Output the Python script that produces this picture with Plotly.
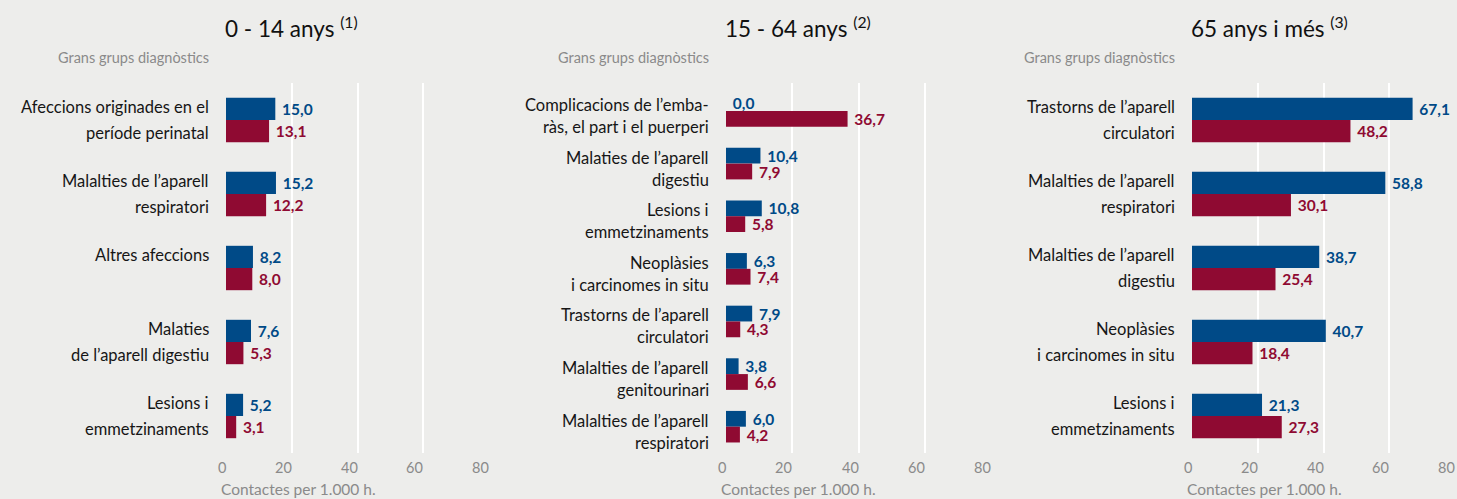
import plotly.graph_objects as go

# ---- data ----
titles = ["0 - 14 anys", "15 - 64 anys", "65 anys i més"]
notes = ["(1)", "(2)", "(3)"]

cats_1 = ["Afeccions originades en el\nperíode perinatal",
          "Malalties de l’aparell\nrespiratori",
          "Altres afeccions\n",
          "Malaties\nde l’aparell digestiu",
          "Lesions i\nemmetzinaments"]
blue_1 = [15.0, 15.2, 8.2, 7.6, 5.2]
red_1 = [13.1, 12.2, 8.0, 5.3, 3.1]

cats_2 = ["Complicacions de l’emba-\nràs, el part i el puerperi",
          "Malaties de l’aparell\ndigestiu",
          "Lesions i\nemmetzinaments",
          "Neoplàsies\ni carcinomes in situ",
          "Trastorns de l’aparell\ncirculatori",
          "Malalties de l’aparell\ngenitourinari",
          "Malalties de l’aparell\nrespiratori"]
blue_2 = [0.0, 10.4, 10.8, 6.3, 7.9, 3.8, 6.0]
red_2 = [36.7, 7.9, 5.8, 7.4, 4.3, 6.6, 4.2]

cats_3 = ["Trastorns de l’aparell\ncirculatori",
          "Malalties de l’aparell\nrespiratori",
          "Malalties de l’aparell\ndigestiu",
          "Neoplàsies\ni carcinomes in situ",
          "Lesions i\nemmetzinaments"]
blue_3 = [67.1, 58.8, 38.7, 40.7, 21.3]
red_3 = [48.2, 30.1, 25.4, 18.4, 27.3]

x_ticks = [0, 20, 40, 60, 80]
x_tick_labels = ["0", "20", "40", "60", "80"]
y_title = "Grans grups diagnòstics"
x_title = "Contactes per 1.000 h."

# ---- style ----
W, H = 1457, 499
BG = "#ededeb"
BLUE = "#004a87"
RED = "#8f0a32"
GREY = "#8a8a8a"
FONT = "Lato"
panels = [
    dict(cats=cats_1, blue=blue_1, red=red_1, x0=226, x1=489, shifts=(13, -13)),
    dict(cats=cats_2, blue=blue_2, red=red_2, x0=726, x1=991, shifts=(6, -16)),
    dict(cats=cats_3, blue=blue_3, red=red_3, x0=1192, x1=1455, shifts=(13, -13)),
]
ytop, ybot = 83, 453

fig = go.Figure()
annotations = []
for i, p in enumerate(panels):
    n = "" if i == 0 else str(i + 1)
    xa, ya = "x" + n, "y" + n
    keys = [c.replace("\n", " ") for c in p["cats"]]
    for vals, col, name in [(p["blue"], BLUE, "Homes"), (p["red"], RED, "Dones")]:
        fig.add_trace(go.Bar(
            y=keys, x=vals, orientation="h", name=name, marker=dict(color=col, line=dict(width=0)),
            text=["\u00a0" + f"{v:.1f}".replace(".", ",") for v in vals],
            textposition="outside", constraintext="none", cliponaxis=False,
            textfont=dict(family=FONT, size=15.5, color=col, weight="bold"),
            xaxis=xa, yaxis=ya, showlegend=False, hoverinfo="skip"))
    dom = [p["x0"] / W, p["x1"] / W]
    fig.update_layout(**{
        ("xaxis" + n): dict(domain=dom, range=[0, 80], tickvals=x_ticks, showgrid=True,
                            gridcolor="white", gridwidth=2, zeroline=False, showline=False,
                            ticks="", showticklabels=False, automargin=False,
                            anchor=ya, fixedrange=True),
        ("yaxis" + n): dict(domain=[1 - ybot / H, 1 - ytop / H], categoryorder="array",
                            categoryarray=keys, autorange="reversed", showticklabels=False,
                            showgrid=False, zeroline=False, showline=False, anchor=xa,
                            automargin=False, fixedrange=True),
    })
    xd = ("x" + n) + " domain"
    # x tick labels (right-aligned on the gridlines, as in the reference)
    for tv, tl in zip(x_ticks, x_tick_labels):
        annotations.append(dict(text=tl, xref=xa, yref="paper", x=tv, y=1 - 467 / H,
                                xanchor="right", yanchor="middle", xshift=2, showarrow=False,
                                font=dict(family=FONT, size=14.5, color=GREY)))
    # category labels, line by line
    for c, k in zip(p["cats"], keys):
        lines = c.split("\n")
        for line, sh in zip(lines, p["shifts"]):
            if line.strip():
                annotations.append(dict(text=line, xref=xd, yref=ya, x=0, y=k, xanchor="right",
                                        yanchor="middle", xshift=-15, yshift=sh, showarrow=False,
                                        font=dict(family=FONT, size=16.5, color="#161616")))
    annotations.append(dict(text=f"{titles[i]} <sup>{notes[i]}</sup>", xref=xd, yref="paper",
                            x=0, y=1 - 27 / H, xanchor="left", yanchor="middle", showarrow=False,
                            xshift=-3, font=dict(family=FONT, size=22.5, color="#111")))
    annotations.append(dict(text=y_title, xref=xd, yref="paper", x=0, y=1 - 57 / H,
                            xanchor="right", yanchor="middle", xshift=-15, showarrow=False,
                            font=dict(family=FONT, size=14.5, color=GREY)))
    annotations.append(dict(text=x_title, xref=xd, yref="paper", x=0, y=0,
                            xanchor="left", yanchor="bottom", xshift=-7, yshift=-1,
                            showarrow=False, font=dict(family=FONT, size=15.5, color=GREY)))

fig.update_layout(width=W, height=H, margin=dict(l=0, r=0, t=0, b=0, autoexpand=False),
                  paper_bgcolor=BG, plot_bgcolor=BG, barmode="group", bargap=0.4,
                  bargroupgap=0, annotations=annotations, font=dict(family=FONT))
fig.write_html("out.html", config=dict(displayModeBar=False),
               post_script="document.body.style.margin='0';document.body.style.background='#ededeb';")
